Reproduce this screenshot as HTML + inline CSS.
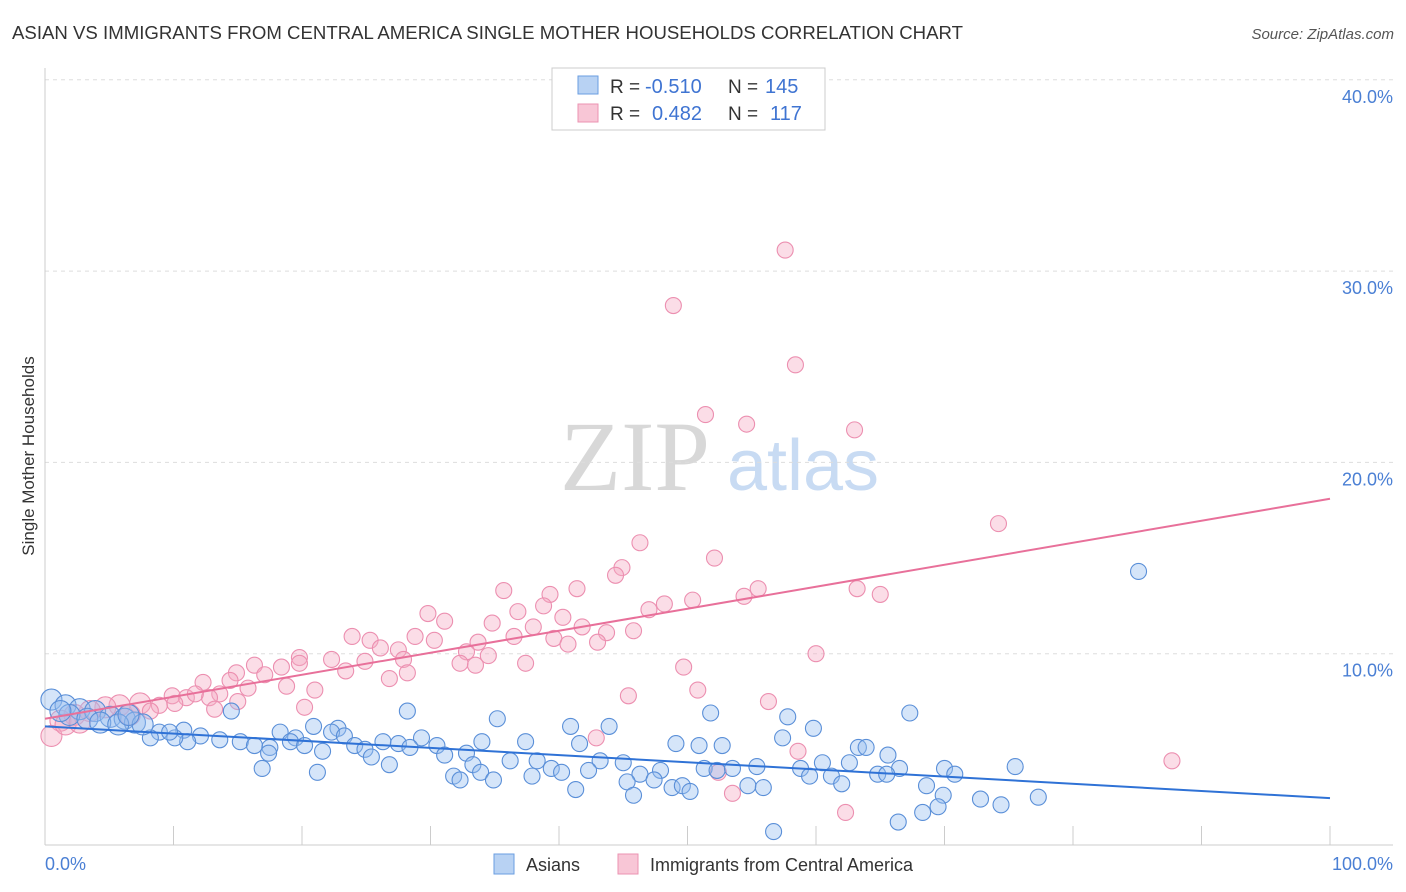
<!DOCTYPE html>
<html><head><meta charset="utf-8"><style>
body{margin:0;background:#fff;font-family:"Liberation Sans",sans-serif;}
svg{display:block}
</style></head><body>
<svg id="chart" width="1406" height="892" viewBox="0 0 1406 892" xmlns="http://www.w3.org/2000/svg">
<text x="12" y="39" font-size="18" textLength="951" lengthAdjust="spacingAndGlyphs" fill="#333" font-family="Liberation Sans, sans-serif">ASIAN VS IMMIGRANTS FROM CENTRAL AMERICA SINGLE MOTHER HOUSEHOLDS CORRELATION CHART</text>
<text x="1394" y="39" font-size="15" fill="#555" font-style="italic" text-anchor="end">Source: ZipAtlas.com</text>
<g>
<text x="635" y="490" font-size="100" fill="#d8d8d8" font-family="Liberation Serif, serif" text-anchor="middle">ZIP</text>
<text x="803" y="490" font-size="72" fill="#c8dbf3" text-anchor="middle">atlas</text>
</g>
<g id="grid"></g>
<g id="axes"></g>
<g id="pts"></g>
<g id="trend"></g>
<text transform="translate(34,456) rotate(-90)" font-size="17" fill="#333" text-anchor="middle">Single Mother Households</text>
<text x="45" y="870" font-size="18" fill="#4a7fd4">0.0%</text>
<text x="1393" y="870" font-size="18" fill="#4a7fd4" text-anchor="end">100.0%</text>
<g>
<rect x="552" y="68" width="273" height="62" fill="#fff" stroke="#ccc"/>
<rect x="578" y="76" width="20" height="18" fill="#b8d2f3" stroke="#6a9ee0"/>
<rect x="578" y="104" width="20" height="18" fill="#f8c6d6" stroke="#eb93b2"/>
<text x="610" y="93" font-size="19" fill="#333">R =</text>
<text x="645" y="93" font-size="20" fill="#3f74d2">-0.510</text>
<text x="728" y="93" font-size="19" fill="#333">N =</text>
<text x="765" y="93" font-size="20" fill="#3f74d2">145</text>
<text x="610" y="120" font-size="19" fill="#333">R =</text>
<text x="652" y="120" font-size="20" fill="#3f74d2">0.482</text>
<text x="728" y="120" font-size="19" fill="#333">N =</text>
<text x="770" y="120" font-size="20" fill="#3f74d2">117</text>
</g>
<g>
<rect x="494" y="854" width="20" height="20" fill="#b8d2f3" stroke="#6a9ee0"/>
<text x="526" y="871" font-size="18" fill="#333">Asians</text>
<rect x="618" y="854" width="20" height="20" fill="#f8c6d6" stroke="#eb93b2"/>
<text x="650" y="871" font-size="18" fill="#333">Immigrants from Central America</text>
</g>
</svg>
<script>
const yTicks=[10,20,30,40];
const yTickLabels=["10.0%","20.0%","30.0%","40.0%"];
const xTicks=[0,10,20,30,40,50,60,70,80,90,100];
const blueX=[85.1,28.2,14.5,51.8,57.8,35.2,43.9,40.9,20.9,22.8,59.8,18.3,22.3,23.3,10.8,8.9,8.2,12.1,13.6,15.2,16.3,11.1,10.1,19.5,19.1,20.2,17.5,24.1,26.3,27.5,29.3,30.5,28.4,24.9,37.4,34.0,41.6,49.1,50.9,52.7,57.4,63.3,63.9,65.6,67.3,32.8,31.1,21.6,17.4,25.4,26.8,33.3,36.2,38.3,39.4,43.2,45.0,47.9,51.3,52.3,53.5,55.4,58.8,60.5,62.6,64.8,66.5,70.0,75.5,16.9,21.2,31.8,33.9,37.9,40.2,42.3,46.3,47.4,59.5,61.2,62.0,65.5,70.8,34.9,32.3,45.3,48.8,49.6,50.2,54.7,55.9,68.6,41.3,45.8,69.9,72.8,74.4,77.3,69.5,68.3,66.4,56.7,0.5,1.6,2.7,3.9,5.1,6.2,7.0,1.9,3.3,4.3,5.7,7.6,6.5,1.2,9.7];
const blueY=[14.3,7.0,7.0,6.9,6.7,6.6,6.2,6.2,6.2,6.1,6.1,5.9,5.9,5.7,6.0,5.9,5.6,5.7,5.5,5.4,5.2,5.4,5.6,5.6,5.4,5.2,5.1,5.2,5.4,5.3,5.6,5.2,5.1,5.0,5.4,5.4,5.3,5.3,5.2,5.2,5.6,5.1,5.1,4.7,6.9,4.8,4.7,4.9,4.8,4.6,4.2,4.2,4.4,4.4,4.0,4.4,4.3,3.9,4.0,3.9,4.0,4.1,4.0,4.3,4.3,3.7,4.0,4.0,4.1,4.0,3.8,3.6,3.8,3.6,3.8,3.9,3.7,3.4,3.6,3.6,3.2,3.7,3.7,3.4,3.4,3.3,3.0,3.1,2.8,3.1,3.0,3.1,2.9,2.6,2.6,2.4,2.1,2.5,2.0,1.7,1.2,0.7,7.6,7.3,7.1,7.0,6.7,6.6,6.4,6.8,6.6,6.4,6.3,6.3,6.8,7.0,5.9];
const pinkX=[57.6,48.9,58.4,51.4,54.6,63.0,74.2,46.3,52.1,44.9,44.4,41.4,35.7,39.3,55.5,63.2,65.0,54.4,50.4,48.2,47.0,38.8,36.8,40.3,29.8,31.1,34.8,38.0,41.8,45.8,43.7,36.5,39.6,28.8,30.3,23.9,25.3,33.7,40.7,43.0,26.1,27.5,32.8,34.5,60.0,19.8,22.3,24.9,27.9,32.3,33.5,37.4,49.7,16.3,18.4,19.8,23.4,14.9,17.1,28.2,26.8,14.4,12.3,18.8,21.0,15.8,13.6,50.8,12.8,9.9,11.0,11.7,45.4,15.0,20.2,56.3,10.1,8.9,7.4,5.8,4.7,3.5,2.3,1.2,0.5,1.6,2.7,6.6,8.2,13.2,42.9,58.6,52.4,53.5,62.3,87.7];
const pinkY=[31.1,28.2,25.1,22.5,22.0,21.7,16.8,15.8,15.0,14.5,14.1,13.4,13.3,13.1,13.4,13.4,13.1,13.0,12.8,12.6,12.3,12.5,12.2,11.9,12.1,11.7,11.6,11.4,11.4,11.2,11.1,10.9,10.8,10.9,10.7,10.9,10.7,10.6,10.5,10.6,10.3,10.2,10.1,9.9,10.0,9.8,9.7,9.6,9.7,9.5,9.4,9.5,9.3,9.4,9.3,9.5,9.1,9.0,8.9,9.0,8.7,8.6,8.5,8.3,8.1,8.2,7.9,8.1,7.7,7.8,7.7,7.9,7.8,7.5,7.2,7.5,7.4,7.3,7.4,7.3,7.2,7.0,6.8,6.5,5.7,6.3,6.4,6.8,7.0,7.1,5.6,4.9,3.8,2.7,1.7,4.4];
const blueTrend=[[0,6.2],[100,2.45]];
const pinkTrend=[[0,6.6],[100,18.1]];
const NS="http://www.w3.org/2000/svg";
const sx=v=>45+v*12.85;
const sy=v=>845-v*19.13;
function mk(tag,attrs,parent){const e=document.createElementNS(NS,tag);for(const k in attrs)e.setAttribute(k,attrs[k]);parent.appendChild(e);return e;}
const grid=document.getElementById('grid'),axes=document.getElementById('axes'),pts=document.getElementById('pts'),trend=document.getElementById('trend');
yTicks.forEach((t,i)=>{
 const l=mk('line',{x1:45,x2:1393,y1:sy(t),y2:sy(t),stroke:'#ddd','stroke-dasharray':'4,4'},grid);
 
 
 const tx=mk('text',{x:1393,y:sy(t)+23,'font-size':18,fill:'#4a7fd4','text-anchor':'end'},grid);
 tx.textContent=yTickLabels[i];
 
 
});
const ya=mk('line',{x1:45,x2:45,y1:68,y2:845,stroke:'#ccc'},axes);


const xa=mk('line',{x1:45,x2:1393,y1:845,y2:845,stroke:'#ccc'},axes);


xTicks.forEach(t=>{
 const l=mk('line',{x1:sx(t),x2:sx(t),y1:826,y2:845,stroke:'#ccc'},axes);
 
 
});
function dots(xs,ys,fill,stroke,name){
 xs.forEach((x,i)=>{
  const r=x<8?10.5:8;
  const c=mk('circle',{cx:sx(x),cy:sy(ys[i]),r:r,fill:fill,stroke:stroke,'stroke-width':1.1},pts);
  
  
 });
}
dots(pinkX,pinkY,'rgba(245,170,196,0.4)','#ec8fb0','immigrants-point');
dots(blueX,blueY,'rgba(150,190,240,0.4)','#5a8fd8','asians-point');
const bl=mk('line',{x1:sx(blueTrend[0][0]),y1:sy(blueTrend[0][1]),x2:sx(blueTrend[1][0]),y2:sy(blueTrend[1][1]),stroke:'#2f72d6','stroke-width':2},trend);


const pl=mk('line',{x1:sx(pinkTrend[0][0]),y1:sy(pinkTrend[0][1]),x2:sx(pinkTrend[1][0]),y2:sy(pinkTrend[1][1]),stroke:'#e8709a','stroke-width':2},trend);


</script>
</body></html>
